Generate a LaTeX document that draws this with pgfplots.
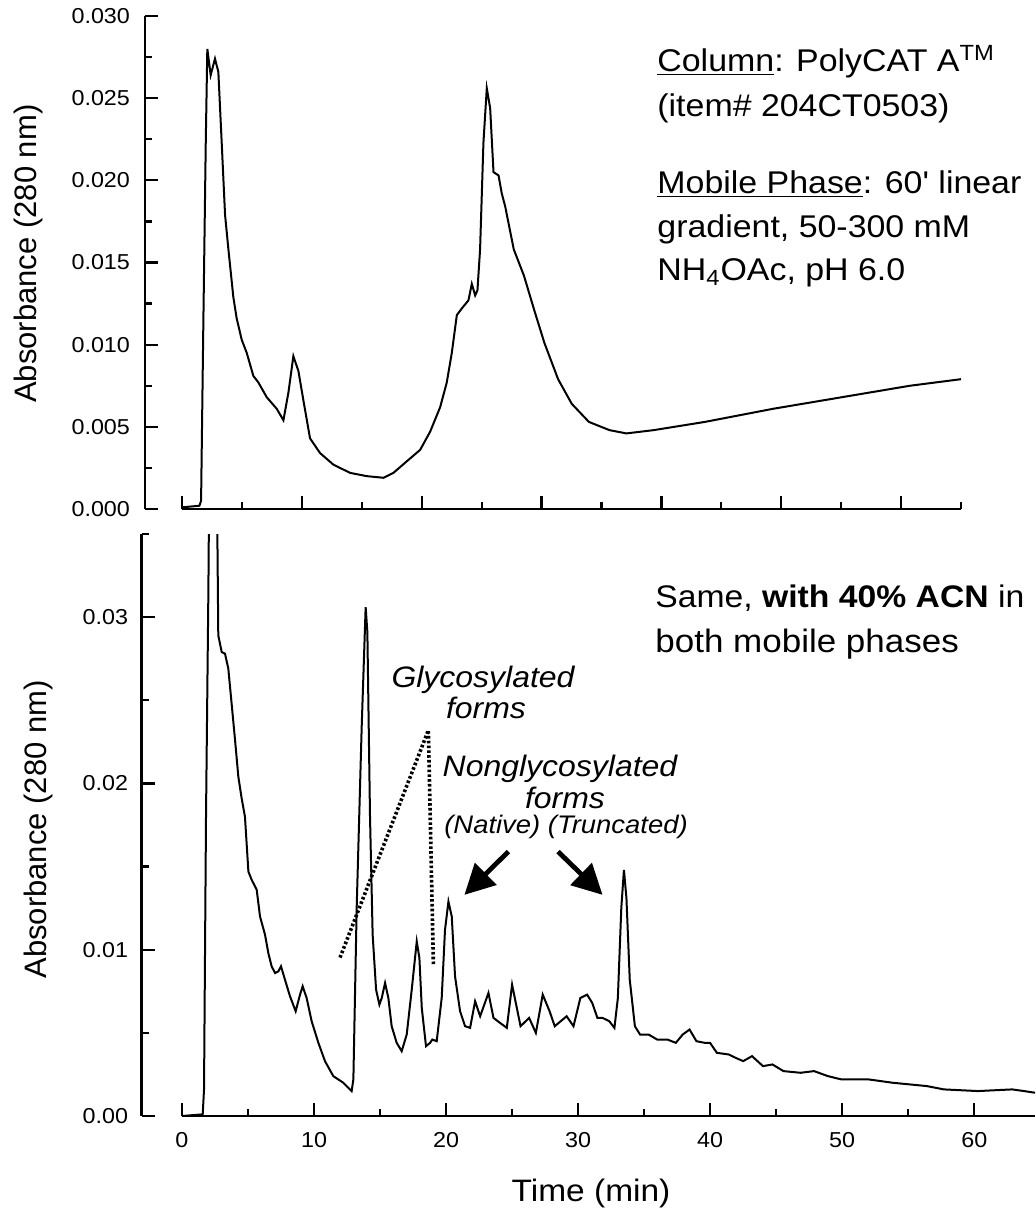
\documentclass[border=0pt]{standalone}
\usepackage{fontspec}
\setmainfont{Liberation Sans}[FakeStretch=1.08]
\newfontfamily\ylabfont{Liberation Sans}
\usepackage{graphicx}
\usepackage{pgfplots}
\pgfplotsset{compat=1.18}
\usepackage{pgfplotstable}
\usetikzlibrary{arrows.meta}

\pgfplotstableread{
t A
0.0 0.0001
1.45 0.0002
1.59 0.0005
1.78 0.0114
1.98 0.0223
2.11 0.0280
2.39 0.0264
2.75 0.0274
3.03 0.0266
3.31 0.0223
3.59 0.0179
3.87 0.0158
4.28 0.0129
4.56 0.0116
4.98 0.0103
5.40 0.0095
5.95 0.0081
6.37 0.0077
7.07 0.0068
7.90 0.0061
8.46 0.0054
8.88 0.0071
9.29 0.0093
9.71 0.0084
10.13 0.0066
10.68 0.0043
11.52 0.0034
12.63 0.0027
14.02 0.0022
15.41 0.0020
16.81 0.0019
17.64 0.0022
18.75 0.0029
19.87 0.0036
20.70 0.0047
21.54 0.0062
22.09 0.0077
22.51 0.0095
22.93 0.0118
23.34 0.0122
23.90 0.0127
24.18 0.0137
24.46 0.0130
24.65 0.0133
24.87 0.0158
25.15 0.0223
25.43 0.0256
25.71 0.0244
25.99 0.0205
26.41 0.0203
26.68 0.0192
26.97 0.0184
27.68 0.0158
28.53 0.0142
29.39 0.0121
30.24 0.0101
31.38 0.0079
32.52 0.0064
33.95 0.0053
35.66 0.0048
37.08 0.0046
39.36 0.0048
43.63 0.0053
49.33 0.0061
55.03 0.0068
60.73 0.0075
65.0 0.0079
}\topdata

\pgfplotstableread{
t A
0.0 0.0000
1.57 0.0001
1.67 0.0016
1.82 0.0180
2.00 0.0316
2.08 0.0400
2.35 0.0650
2.65 0.0400
2.68 0.0350
2.75 0.0289
3.01 0.0279
3.26 0.0278
3.51 0.0269
3.76 0.0248
4.02 0.0226
4.27 0.0204
4.52 0.0191
4.77 0.0180
5.03 0.0147
5.28 0.0142
5.66 0.0136
5.91 0.0120
6.29 0.0109
6.54 0.0098
6.79 0.0090
7.05 0.0086
7.30 0.0087
7.50 0.0090
7.80 0.0082
8.18 0.0072
8.61 0.0063
8.94 0.0073
9.14 0.0078
9.44 0.0071
9.82 0.0057
10.33 0.0044
10.83 0.0033
11.46 0.0024
12.22 0.0020
12.85 0.0015
12.98 0.0022
13.23 0.0125
13.61 0.0234
13.91 0.0306
14.04 0.0291
14.24 0.0180
14.44 0.0109
14.70 0.0076
14.95 0.0067
15.13 0.0071
15.38 0.0080
15.63 0.0071
15.88 0.0054
16.26 0.0044
16.64 0.0039
17.02 0.0049
17.40 0.0076
17.78 0.0105
17.98 0.0095
18.16 0.0065
18.48 0.0042
18.79 0.0044
18.96 0.0046
19.29 0.0045
19.67 0.0071
19.92 0.0112
20.18 0.0129
20.43 0.0120
20.68 0.0084
21.06 0.0063
21.44 0.0054
21.82 0.0053
22.20 0.0069
22.58 0.0060
23.21 0.0074
23.59 0.0059
24.09 0.0056
24.60 0.0053
25.00 0.0079
25.64 0.0054
26.29 0.0059
26.80 0.0050
27.32 0.0073
27.84 0.0063
28.23 0.0054
29.13 0.0060
29.65 0.0054
30.17 0.0071
30.68 0.0073
31.07 0.0068
31.46 0.0059
31.85 0.0059
32.36 0.0057
32.75 0.0053
33.01 0.0071
33.27 0.0125
33.47 0.0148
33.66 0.0131
33.91 0.0082
34.30 0.0054
34.69 0.0049
35.34 0.0049
35.98 0.0046
36.76 0.0046
37.40 0.0044
37.92 0.0049
38.44 0.0052
38.96 0.0045
39.60 0.0044
39.99 0.0044
40.51 0.0038
41.41 0.0037
41.93 0.0035
42.50 0.0033
43.17 0.0036
44.00 0.0030
44.72 0.0031
45.55 0.0027
46.84 0.0026
47.87 0.0027
48.91 0.0024
49.94 0.0022
52.01 0.0022
53.82 0.0020
56.41 0.0018
57.70 0.0016
60.28 0.0015
62.87 0.0016
63.77 0.0015
64.60 0.0014
}\botdata

\pgfplotsset{
  chrom/.style={
    scale only axis,
    axis lines=left,
    axis line style={-, line width=1.3pt},
    x axis line style={draw=none},
    tick align=inside,
    tick style={line width=1.1pt, black},
    major tick length=6.5pt,
    minor tick length=3.5pt,
    scaled y ticks=false,
    scaled x ticks=false,
    tick label style={font=\fontsize{10.8}{12}\selectfont},
    /pgf/number format/assume math mode=true,
    ylabel style={font=\ylabfont\fontsize{15.5}{18}\selectfont, anchor=center},
    every axis plot/.append style={line width=1pt, black},
  }
}

\begin{document}
\begin{tikzpicture}
% ---------- top chromatogram ----------
\begin{axis}[chrom,
  at={(72.5pt,-254.5pt)}, anchor=south west,
  width=408pt, height=246.5pt,
  xmin=-3.09, xmax=65, ymin=0, ymax=0.030,
  xtick={0,10,20,30,40,50,60},
  minor xtick={5,15,25,35,45,55,65},
  xticklabels={},
  ytick={0,0.005,0.01,0.015,0.02,0.025,0.03},
  minor ytick={0.0025,0.0075,0.0125,0.0175,0.0225,0.0275},
  yticklabel style={/pgf/number format/.cd, fixed, fixed zerofill, precision=3, /tikz/.cd, xshift=-4pt},
  ylabel={Absorbance (280 nm)},
  ylabel style={at={(axis description cs:-0.1428,0.518)}},
]
\draw[line width=1.3pt] (axis cs:0,0) -- (axis cs:65,0);
\addplot[line width=1pt] table[x=t, y=A] {\topdata};
\end{axis}

% ---------- bottom chromatogram ----------
\begin{axis}[chrom,
  at={(70.85pt,-558pt)}, anchor=south west,
  width=446.65pt, height=291pt,
  xmin=-3.05, xmax=64.6, ymin=0, ymax=0.035,
  xtick={0,10,20,30,40,50,60},
  minor xtick={5,15,25,35,45,55},
  xticklabel style={yshift=-4.8pt},
  ytick={0,0.01,0.02,0.03},
  minor ytick={0.005,0.015,0.025,0.035},
  yticklabel style={/pgf/number format/.cd, fixed, fixed zerofill, precision=2, /tikz/.cd, xshift=-3.3pt},
  ylabel={Absorbance (280 nm)},
  ylabel style={at={(axis description cs:-0.1155,0.4923)}},
  xlabel={Time (min)},
  xlabel style={font=\fontsize{15.5}{18}\selectfont, at={(axis description cs:0.503,-0.1323)}, anchor=center},
]
\draw[line width=1.3pt] (axis cs:0,0) -- (axis cs:64.6,0);
\addplot[line width=1pt] table[x=t, y=A] {\botdata};
% dotted guide lines to glycosylated forms
\draw[line width=1.8pt, dash pattern=on 1.3pt off 1.1pt] (axis cs:11.97,0.00953) -- (axis cs:18.66,0.0232) -- (axis cs:19.04,0.00913);
% arrows
\draw[line width=2.4pt, -{Triangle[length=15pt,width=15pt]}] (axis cs:24.72,0.0159) -- (axis cs:21.39,0.0133);
\draw[line width=2.4pt, -{Triangle[length=15pt,width=15pt]}] (axis cs:28.48,0.0159) -- (axis cs:31.85,0.0133);
\end{axis}

% ---------- annotations ----------
\begin{scope}[every node/.style={inner sep=0pt, font=\fontsize{15.7}{19}\selectfont}]
\node[anchor=base west] at (328.5pt,-35.7pt) {\underline{Column}: PolyCAT A\textsuperscript{TM}};
\node[anchor=base west] at (328.5pt,-58pt) {(item\# 204CT0503)};
\node[anchor=base west] at (328.5pt,-96.5pt) {\underline{Mobile Phase}: 60{\addfontfeatures{Ligatures=TeXOff}'} linear};
\node[anchor=base west] at (328.5pt,-118.75pt) {gradient, 50-300 mM};
\node[anchor=base west] at (328.5pt,-140pt) {NH\textsubscript{4}OAc, pH 6.0};
\end{scope}
\begin{scope}[every node/.style={inner sep=0pt, font=\fontsize{16.2}{19}\selectfont}]
\node[anchor=base west, font=\fontsize{15.6}{19}\selectfont] at (327.5pt,-303.5pt) {Same, \textbf{with 40\% ACN} in};
\node[anchor=base west] at (327.5pt,-326pt) {both mobile phases};
\end{scope}
\begin{scope}[every node/.style={inner sep=0pt, font=\itshape\fontsize{14.8}{17}\selectfont}]
\node[anchor=base] at (241.5pt,-343.5pt) {Glycosylated};
\node[anchor=base] at (243pt,-359pt) {forms};
\node[anchor=base] at (280pt,-388pt) {Nonglycosylated};
\node[anchor=base] at (282.5pt,-404pt) {forms};
\node[anchor=base, font=\itshape\fontsize{12.7}{15}\selectfont] at (283pt,-416.5pt) {(Native) (Truncated)};
\end{scope}

\pgfresetboundingbox
\path[use as bounding box] (0pt,0pt) rectangle (517.5pt,-605pt);
\end{tikzpicture}
\end{document}
